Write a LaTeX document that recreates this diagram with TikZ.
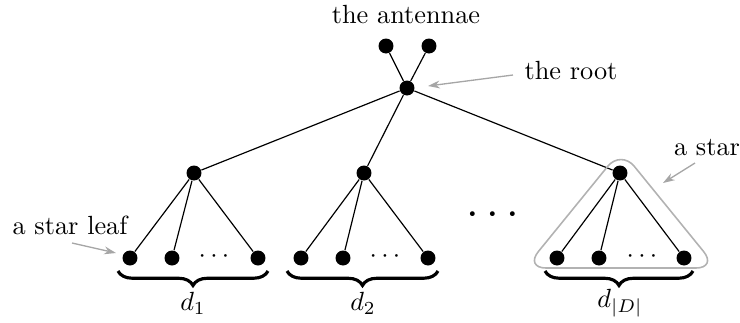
\documentclass[tikz,border=0pt]{standalone}
\usetikzlibrary{arrows.meta,decorations.pathreplacing}
\begin{document}
\begin{tikzpicture}[x=0.3803pt,y=-0.3803pt,
  dot/.style={circle,fill=black,inner sep=0pt,minimum size=5.7pt},
  edge/.style={line width=0.45pt},
  note/.style={gray!70,line width=0.5pt,-{Stealth[length=4.5pt,width=3pt]}},
  lab/.style={anchor=base,inner sep=0pt},
  brc/.style={decorate,decoration={brace,amplitude=5.5pt},line width=1.2pt}]
\useasboundingbox (0,0) rectangle (740,322);
% antennae and root
\node[dot] (a1) at (386,46) {};
\node[dot] (a2) at (429,46) {};
\node[dot] (r) at (407,88) {};
% middle nodes
\node[dot] (m1) at (194,173) {};
\node[dot] (m2) at (364,173) {};
\node[dot] (m3) at (620,173) {};
% leaves
\node[dot] (l11) at (130,258) {};
\node[dot] (l12) at (172,258) {};
\node[dot] (l13) at (258,258) {};
\node[dot] (l21) at (301,258) {};
\node[dot] (l22) at (343,258) {};
\node[dot] (l23) at (428,258) {};
\node[dot] (l31) at (557,258) {};
\node[dot] (l32) at (599,258) {};
\node[dot] (l33) at (684,258) {};
\node (c1) at (214,257) {$\cdots$};
\node (c2) at (385,257) {$\cdots$};
\node (c3) at (642,257) {$\cdots$};
\node (bigdots) at (493,215) {\LARGE$\cdots$};
% edges
\draw[edge] (a1) -- (r) (a2) -- (r);
\draw[edge] (r) -- (m1) (r) -- (m2) (r) -- (m3);
\draw[edge] (m1) -- (l11) (m1) -- (l12) (m1) -- (l13);
\draw[edge] (m2) -- (l21) (m2) -- (l22) (m2) -- (l23);
\draw[edge] (m3) -- (l31) (m3) -- (l32) (m3) -- (l33);
% star outline
\draw[gray!60,line width=0.6pt,rounded corners=8pt] (621,150) -- (525,268) -- (717,268) -- cycle;
% braces
\coordinate (b1r) at (268,271); \coordinate (b1l) at (118,271);
\coordinate (b2r) at (438,271); \coordinate (b2l) at (287,271);
\coordinate (b3r) at (693,271); \coordinate (b3l) at (545,271);
\draw[brc] (b1r) -- (b1l);
\draw[brc] (b2r) -- (b2l);
\draw[brc] (b3r) -- (b3l);
\node (d1) at (193,303) {$d_1$};
\node (d2) at (363,303) {$d_2$};
\node (d3) at (620,303) {$d_{|D|}$};
% labels
\node[lab] (tant) at (406,23) {the antennae};
\node[lab] (troot) at (571,79) {the root};
\node[lab] (tstar) at (707,155) {a star};
\node[lab] (tleaf) at (70,234) {a star leaf};
\coordinate (ar1) at (513,75);
\coordinate (ar2) at (695,163);
\coordinate (ar3) at (72,243);
\draw[note] (ar1) -- (428,86);
\draw[note] (ar2) -- (663,183);
\draw[note] (ar3) -- (116,253);
\end{tikzpicture}
\end{document}
